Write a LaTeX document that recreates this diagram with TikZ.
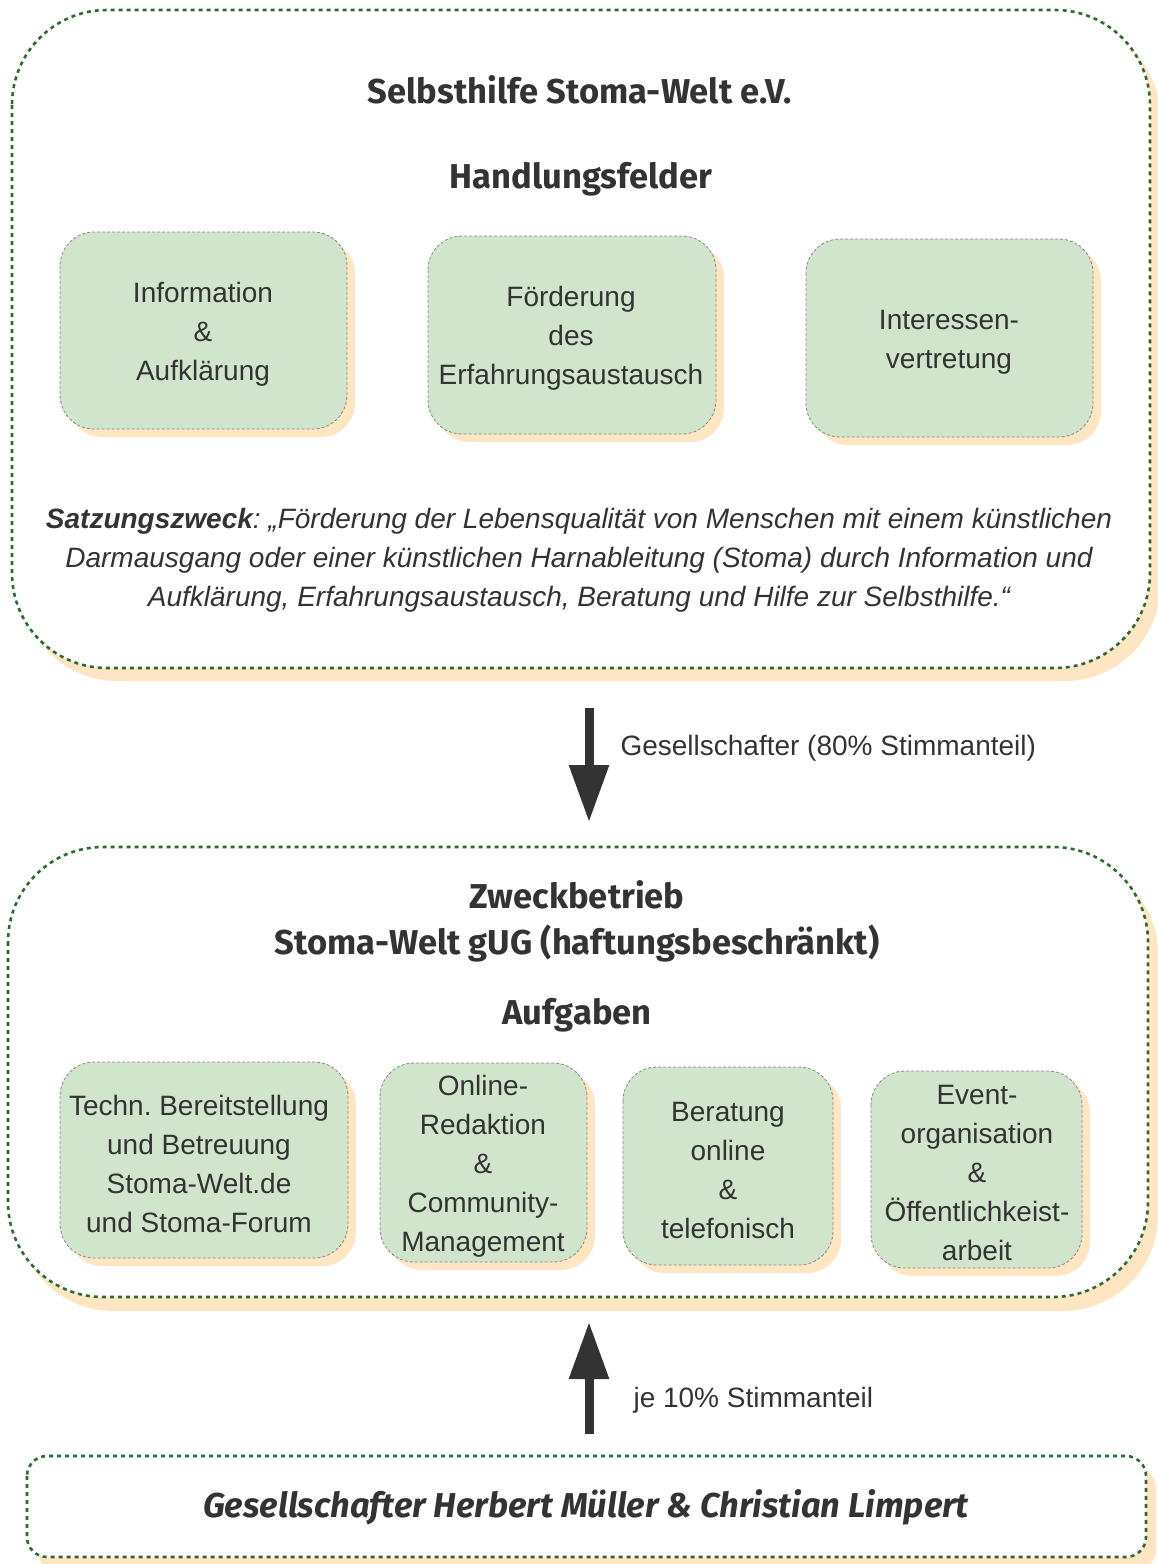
\documentclass[tikz,border=0pt]{standalone}
\usepackage{fontspec}
\setmainfont{Liberation Sans}
\newfontfamily\headfont{Fira Sans}
\usetikzlibrary{arrows.meta}
\frenchspacing
\definecolor{txt}{HTML}{333333}
\definecolor{dgreen}{HTML}{2E6B30}
\definecolor{lgreen}{HTML}{D0E5CB}
\definecolor{peach}{HTML}{FFE6C2}
\definecolor{bordergray}{HTML}{888888}
\tikzset{
  outerbox/.style={draw=dgreen, line width=2.6pt, dash pattern=on 4pt off 4pt, fill=white},
  innerbox/.style={draw=bordergray, line width=0.8pt, dash pattern=on 3pt off 2pt, fill=lgreen, rounded corners=34pt},
  bodytext/.style={text=txt, align=center, font=\fontsize{28}{39}\selectfont},
  headtext/.style={text=txt, align=center, font=\headfont\bfseries\fontsize{34.5}{46}\selectfont},
  bigarrow/.style={draw=txt, line width=9pt, -{Triangle[width=38pt,length=57pt]}},
}
\begin{document}
\begin{tikzpicture}[x=1pt,y=-1pt]
\useasboundingbox (0,0) rectangle (1158,1564);
% ---------- outer box 1
\fill[peach, rounded corners=95pt] (22,22) rectangle (1160,681);
\draw[outerbox, rounded corners=95pt] (12,10) rectangle (1150,668);
\node[headtext] (t1) at (580,90) {Selbsthilfe Stoma-Welt e.V.};
\node[headtext] (t2) at (581,179) {Handlungsfelder};
% inner boxes row 1
\foreach \x/\y/\X/\Y in {60/232/347/429, 428/236/716/434, 806/239/1093/437}{
  \fill[peach, rounded corners=34pt] (\x+8,\y+8) rectangle (\X+8,\Y+8);
}
\draw[innerbox] (60,232) rectangle (347,429);
\draw[innerbox] (428,236) rectangle (716,434);
\draw[innerbox] (806,239) rectangle (1093,437);
\node[bodytext] (h1) at (203,334) {Information\\\&\\Aufklärung};
\node[bodytext] (h2) at (571,338) {Förderung\\des\\Erfahrungsaustausch};
\node[bodytext] (h3) at (949,342) {Interessen-\\vertretung};
\node[bodytext, font=\itshape\fontsize{28}{39}\selectfont] (zw) at (579,560)
 {\textbf{Satzungszweck}: „Förderung der Lebensqualität von Menschen mit einem künstlichen\\
 Darmausgang oder einer künstlichen Harnableitung (Stoma) durch Information und\\
 Aufklärung, Erfahrungsaustausch, Beratung und Hilfe zur Selbsthilfe.“};
% ---------- arrow 1
\coordinate (a1s) at (589,708);
\coordinate (a1e) at (589,822);
\draw[bigarrow] (a1s) -- (a1e);
\node[bodytext, anchor=west] (l1) at (617,748) {Gesellschafter (80\% Stimmanteil)};
% ---------- outer box 2
\fill[peach, rounded corners=95pt] (18,859) rectangle (1158,1311);
\draw[outerbox, rounded corners=95pt] (8,847) rectangle (1148,1297);
\node[headtext] (t3) at (577,921) {Zweckbetrieb\\Stoma-Welt gUG (haftungsbeschränkt)};
\node[headtext] (t4) at (577,1015) {Aufgaben};
\foreach \x/\y/\X/\Y in {60/1062/348/1258, 380/1063/587/1262, 623/1067/833/1265, 871/1071/1082/1268}{
  \fill[peach, rounded corners=34pt] (\x+8,\y+8) rectangle (\X+8,\Y+8);
}
\draw[innerbox] (60,1062) rectangle (348,1258);
\draw[innerbox] (380,1063) rectangle (587,1262);
\draw[innerbox] (623,1067) rectangle (833,1265);
\draw[innerbox] (871,1071) rectangle (1082,1268);
\node[bodytext] (g1) at (199,1164) {Techn. Bereitstellung\\und Betreuung\\Stoma-Welt.de\\und Stoma-Forum};
\node[bodytext] (g2) at (483,1166) {Online-\\Redaktion\\\&\\Community-\\Management};
\node[bodytext] (g3) at (728,1170) {Beratung\\online\\\&\\telefonisch};
\node[bodytext] (g4) at (977,1173) {Event-\\organisation\\\&\\Öffentlichkeist-\\arbeit};
% ---------- arrow 2
\coordinate (a2s) at (589,1434);
\coordinate (a2e) at (589,1322);
\draw[bigarrow] (a2s) -- (a2e);
\node[bodytext, anchor=west] (l2) at (630,1400) {je 10\% Stimmanteil};
% ---------- box 3
\fill[peach, rounded corners=20pt] (37,1468) rectangle (1156,1570);
\draw[outerbox, rounded corners=20pt] (27,1456) rectangle (1146,1557);
\node[headtext, font=\headfont\bfseries\itshape\fontsize{34.5}{46}\selectfont] (t5) at (586,1507) {Gesellschafter Herbert Müller \& Christian Limpert};
\end{tikzpicture}
\end{document}
